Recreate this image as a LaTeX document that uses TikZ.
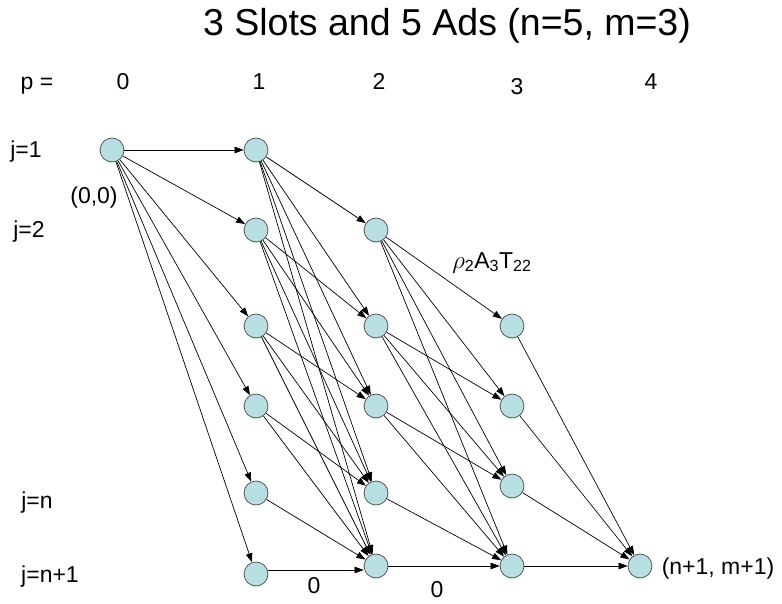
\documentclass[tikz,border=0pt]{standalone}
\usepackage{fontspec}
\setmainfont{Liberation Sans}
\usetikzlibrary{arrows.meta}
\definecolor{nodefill}{RGB}{184,222,226}
\definecolor{nodeline}{RGB}{85,85,85}
\begin{document}
\begin{tikzpicture}[x=1pt,y=-1pt,
  st/.style={circle,draw=nodeline,fill=nodefill,minimum size=24pt,inner sep=0pt,line width=0.8pt},
  ar/.style={-{Triangle[length=9pt,width=6.5pt]},line width=0.7pt},
  lab/.style={font=\fontsize{23}{27}\selectfont,inner sep=0pt,anchor=base}]
\useasboundingbox (0,0) rectangle (782,603);
% title
\node[inner sep=0pt,anchor=base,font=\fontsize{37.5}{44}\selectfont] (title) at (447,35) {3 Slots and 5 Ads (n=5, m=3)};
% header row
\node[lab] (p) at (37,89) {p =};
\node[lab] (p0) at (123,89) {0};
\node[lab] (p1) at (259,89) {1};
\node[lab] (p2) at (379,89) {2};
\node[lab] (p3) at (517,94) {3};
\node[lab] (p4) at (651,89) {4};
% row labels
\node[lab] (j1) at (26,157) {j=1};
\node[lab] (j2) at (29,237) {j=2};
\node[lab] (jn) at (37,508) {j=n};
\node[lab] (jn1) at (50,582) {j=n+1};
% nodes
\node[st] (a) at (112,150) {};
\node[st] (b1) at (256,150) {};
\node[st] (b2) at (256,230) {};
\node[st] (b3) at (256,326) {};
\node[st] (b4) at (256,406) {};
\node[st] (b5) at (256,493) {};
\node[st] (b6) at (256,574) {};
\node[st] (c2) at (376,230) {};
\node[st] (c3) at (376,326) {};
\node[st] (c4) at (376,406) {};
\node[st] (c5) at (376,493) {};
\node[st] (c6) at (376,566) {};
\node[st] (d3) at (512,326) {};
\node[st] (d4) at (512,406) {};
\node[st] (d5) at (512,486) {};
\node[st] (d6) at (512,566) {};
\node[st] (e) at (640,566) {};
% other labels
\node[lab] (orig) at (94,203) {(0,0)};
\node[lab] (end) at (718,574) {(n+1, m+1)};
\node[lab] (rho) at (492,268) {$\rho$\textsubscript{2}A\textsubscript{3}T\textsubscript{22}};
\node[lab] (z1) at (314,593) {0};
\node[lab] (z2) at (437,597) {0};
% edges
\foreach \t in {b1,b2,b3,b4,b5,b6} \draw[ar] (a) -- (\t);
\foreach \t in {c2,c3,c4,c5,c6} \draw[ar] (b1) -- (\t);
\foreach \t in {c3,c4,c5,c6} \draw[ar] (b2) -- (\t);
\foreach \t in {c4,c5,c6} \draw[ar] (b3) -- (\t);
\foreach \t in {c5,c6} \draw[ar] (b4) -- (\t);
\draw[ar] (b5) -- (c6);
\draw[ar] ([yshift=4pt]b6.east) -- ([yshift=-4pt]c6.west);
\foreach \t in {d3,d4,d5,d6} \draw[ar] (c2) -- (\t);
\foreach \t in {d4,d5,d6} \draw[ar] (c3) -- (\t);
\foreach \t in {d5,d6} \draw[ar] (c4) -- (\t);
\draw[ar] (c5) -- (d6);
\draw[ar] (c6) -- (d6);
\foreach \s in {d3,d4,d5,d6} \draw[ar] (\s) -- (e);
\end{tikzpicture}
\end{document}
